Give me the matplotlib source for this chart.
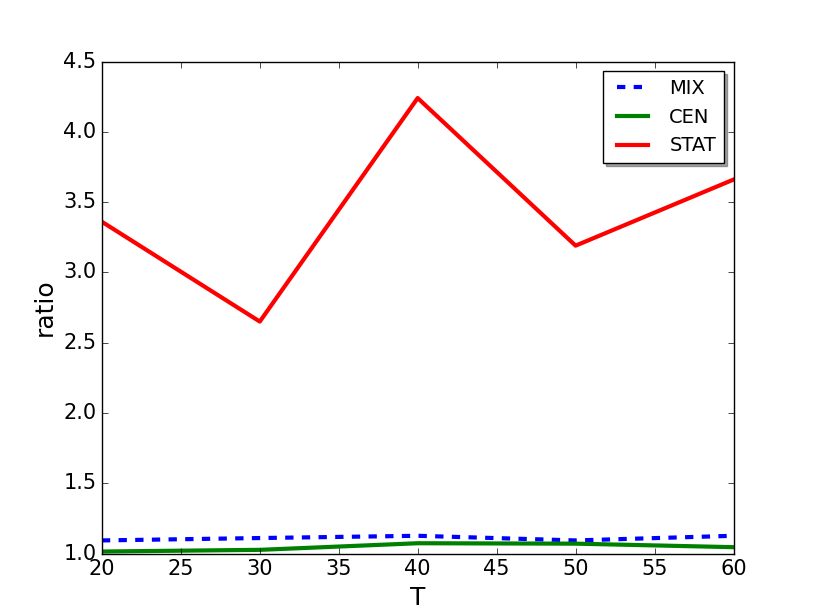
import matplotlib
matplotlib.use("Agg")
import matplotlib.pyplot as plt

plt.style.use("classic")
plt.rcParams["lines.scale_dashes"] = False

T = [20, 30, 40, 50, 60]
mix = [1.093, 1.110, 1.126, 1.093, 1.126]
cen = [1.014, 1.026, 1.073, 1.070, 1.045]
stat = [3.36, 2.65, 4.24, 3.19, 3.66]

fig, ax = plt.subplots(figsize=(8.15, 6.15), dpi=100)
ax.plot(T, mix, "b--", lw=3, dashes=(6, 6), label="MIX")
ax.plot(T, cen, "g-", lw=3, label="CEN")
ax.plot(T, stat, "r-", lw=3, label="STAT")
ax.set_xlim(20, 60)
ax.set_ylim(1.0, 4.5)
ax.set_xlabel("T", fontsize=18)
ax.set_ylabel("ratio", fontsize=18)
ax.tick_params(labelsize=15)
ax.legend(loc="upper right", shadow=True, fontsize=14, handlelength=2.2)
fig.savefig("out.png", dpi=100)
